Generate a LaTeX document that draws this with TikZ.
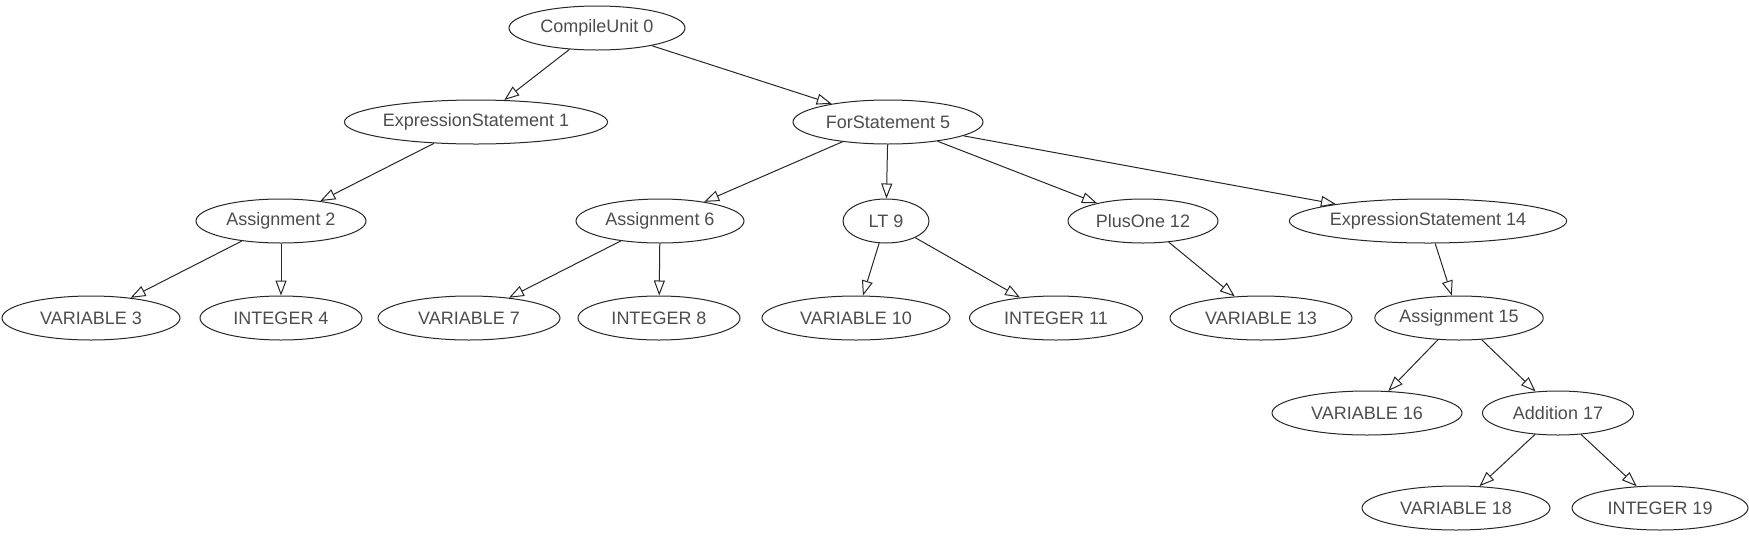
\documentclass[tikz,border=0pt]{standalone}
\usepackage{fontspec}
\setmainfont{Liberation Sans}
\usetikzlibrary{arrows.meta,shapes.geometric}
\begin{document}
\begin{tikzpicture}[x=1pt,y=-1pt,
  tn/.style={draw=black!85, line width=1pt, ellipse, inner sep=0pt, minimum height=44pt,
    font=\fontsize{18}{20}\selectfont, text=black!70},
  edge/.style={draw=black!85, line width=1pt, -{Triangle[open,length=15pt,width=11pt]}}]
\useasboundingbox (0,0) rectangle (1749,539);
\node[tn, minimum width=176pt] (n0) at (597,28) {CompileUnit 0};
\node[tn, minimum width=260pt] (n1) at (476,122) {ExpressionStatement 1};
\node[tn, minimum width=190pt] (n5) at (888,122) {ForStatement 5};
\node[tn, minimum width=170pt] (n2) at (281,221) {Assignment 2};
\node[tn, minimum width=168pt] (n6) at (660,221) {Assignment 6};
\node[tn, minimum width=86pt] (n9) at (886,221) {LT 9};
\node[tn, minimum width=150pt] (n12) at (1143,221) {PlusOne 12};
\node[tn, minimum width=260pt] (n14) at (1428,221) {ExpressionStatement 14};
\node[tn, minimum width=178pt] (n3) at (91,318) {VARIABLE 3};
\node[tn, minimum width=162pt] (n4) at (281,318) {INTEGER 4};
\node[tn, minimum width=182pt] (n7) at (469,318) {VARIABLE 7};
\node[tn, minimum width=162pt] (n8) at (659,318) {INTEGER 8};
\node[tn, minimum width=188pt] (n10) at (856,318) {VARIABLE 10};
\node[tn, minimum width=173pt] (n11) at (1056,318) {INTEGER 11};
\node[tn, minimum width=182pt] (n13) at (1261,318) {VARIABLE 13};
\node[tn, minimum width=168pt] (n15) at (1459,318) {Assignment 15};
\node[tn, minimum width=190pt] (n16) at (1367,413) {VARIABLE 16};
\node[tn, minimum width=151pt] (n17) at (1558,413) {Addition 17};
\node[tn, minimum width=188pt] (n18) at (1456,508) {VARIABLE 18};
\node[tn, minimum width=176pt] (n19) at (1660,508) {INTEGER 19};
\draw[edge] (n0) -- (n1);
\draw[edge] (n0) -- (n5);
\draw[edge] (n1) -- (n2);
\draw[edge] (n2) -- (n3);
\draw[edge] (n2) -- (n4);
\draw[edge] (n5) -- (n6);
\draw[edge] (n5) -- (n9);
\draw[edge] (n5) -- (n12);
\draw[edge] (n5) -- (n14);
\draw[edge] (n6) -- (n7);
\draw[edge] (n6) -- (n8);
\draw[edge] (n9) -- (n10);
\draw[edge] (n9) -- (n11);
\draw[edge] (n12) -- (n13);
\draw[edge] (n14) -- (n15);
\draw[edge] (n15) -- (n16);
\draw[edge] (n15) -- (n17);
\draw[edge] (n17) -- (n18);
\draw[edge] (n17) -- (n19);
\end{tikzpicture}
\end{document}
